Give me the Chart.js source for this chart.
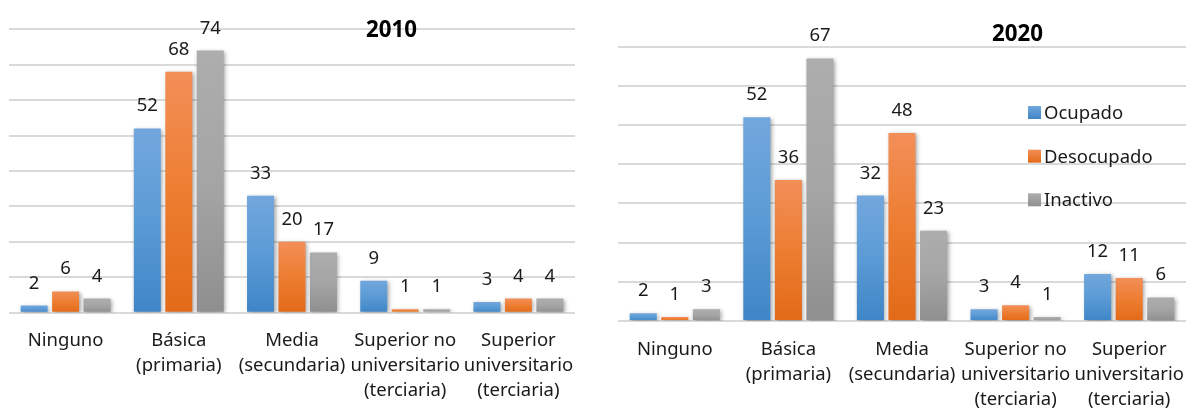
<!DOCTYPE html>
<html><head><meta charset="utf-8">
<script src="https://cdn.jsdelivr.net/npm/chart.js@4"></script>
<style>
html,body{margin:0;padding:0;background:#fff;overflow:hidden}
#wrap{position:relative;width:1186px;height:410px}
#c1{position:absolute;left:0;top:0}
#c2{position:absolute;left:596px;top:0}
</style></head>
<body><div id="wrap"><canvas id="c1" width="590" height="410"></canvas><canvas id="c2" width="590" height="410"></canvas></div>
<script>
// ---- data ----
const categories = [
  ['Ninguno'],
  ['Básica', '(primaria)'],
  ['Media', '(secundaria)'],
  ['Superior no', 'universitario', '(terciaria)'],
  ['Superior', 'universitario', '(terciaria)']
];
const seriesNames = ['Ocupado', 'Desocupado', 'Inactivo'];
const ocupado2010 = [2, 52, 33, 9, 3];
const desocupado2010 = [6, 68, 20, 1, 4];
const inactivo2010 = [4, 74, 17, 1, 4];
const ocupado2020 = [2, 52, 32, 3, 12];
const desocupado2020 = [1, 36, 48, 4, 11];
const inactivo2020 = [3, 67, 23, 1, 6];
const title2010 = '2010';
const title2020 = '2020';
const yMax2010 = 80;
const yMax2020 = 70;
const yStep = 10;

// ---- styles ----
const FONT = 'Noto Sans';
const TEXT = '#1a1a1a';
const COLORS = [
  { top: '#72a7dd', bottom: '#3f85c7', solid: '#5b9bd5' },
  { top: '#f28f58', bottom: '#e26a18', solid: '#ed7d31' },
  { top: '#adadad', bottom: '#8f8f8f', solid: '#a5a5a5' }
];
Chart.defaults.font.family = FONT;
Chart.defaults.font.size = 18.5;
Chart.defaults.color = TEXT;

function gradFor(idx) {
  return function (c) {
    const col = COLORS[idx];
    const chart = c.chart;
    const y = chart.scales && chart.scales.y;
    if (!y || c.type !== 'data' || !chart.chartArea) return col.solid;
    const v = c.raw;
    const p0 = y.getPixelForValue(0), p1 = y.getPixelForValue(v);
    if (!isFinite(p0) || !isFinite(p1) || Math.abs(p0 - p1) < 0.5) return col.bottom;
    const g = chart.ctx.createLinearGradient(0, p1, 0, p0);
    g.addColorStop(0, col.top);
    g.addColorStop(0.5, col.solid);
    g.addColorStop(1, col.bottom);
    return g;
  };
}

const decorPlugin = {
  id: 'decor',
  beforeDatasetsDraw(chart) {
    const ctx = chart.ctx;
    ctx.save();
    ctx.shadowColor = 'rgba(0,0,0,0.35)';
    ctx.shadowBlur = 4;
    ctx.shadowOffsetX = 1.5;
    ctx.shadowOffsetY = 1.5;
  },
  afterDatasetsDraw(chart) {
    const ctx = chart.ctx;
    ctx.restore();
    const o = chart.options.plugins.decor;
    ctx.save();
    ctx.font = `18.5px "${FONT}"`;
    ctx.fillStyle = TEXT;
    ctx.textAlign = 'center';
    ctx.textBaseline = 'alphabetic';
    chart.data.datasets.forEach((ds, di) => {
      chart.getDatasetMeta(di).data.forEach((bar, i) => {
        ctx.fillText(String(ds.data[i]), bar.x, bar.y - 17);
      });
    });
    // title
    ctx.font = `bold 22.3px "${FONT}"`;
    ctx.fillStyle = '#000';
    ctx.fillText(o.title, o.titleX, o.titleY);
    // legend
    if (o.legend) {
      ctx.textAlign = 'left';
      ctx.font = `18.5px "${FONT}"`;
      chart.data.datasets.forEach((ds, di) => {
        const yb = o.legend.y[di];
        const col = COLORS[di];
        const g = ctx.createLinearGradient(0, yb - 13, 0, yb);
        g.addColorStop(0, col.top); g.addColorStop(1, col.bottom);
        ctx.fillStyle = g;
        ctx.fillRect(o.legend.x, yb - 13, 13, 13);
        ctx.fillStyle = TEXT;
        ctx.fillText(ds.label, o.legend.x + 16, yb);
      });
    }
    ctx.restore();
  }
};

function makeChart(id, values, yMax, padding, xHeight, decor) {
  return new Chart(document.getElementById(id), {
    type: 'bar',
    data: {
      labels: categories,
      datasets: values.map((d, i) => ({
        label: seriesNames[i],
        data: d,
        backgroundColor: gradFor(i),
        borderWidth: 0,
        barPercentage: 0.857,
        categoryPercentage: 0.834
      }))
    },
    options: {
      responsive: false,
      animation: false,
      devicePixelRatio: 1,
      layout: { padding },
      plugins: {
        legend: { display: false },
        tooltip: { enabled: false },
        title: { display: false },
        decor
      },
      scales: {
        x: {
          grid: { display: false, drawTicks: false },
          border: { display: false },
          ticks: { padding: 16, maxRotation: 0, autoSkip: false, font: { size: 18.5, lineHeight: 1.35 }, color: TEXT },
          afterFit(s) { s.height = xHeight; s.paddingLeft = 0; s.paddingRight = 0; }
        },
        y: {
          min: 0, max: yMax,
          grid: { color: '#d9d9d9', lineWidth: 2, drawTicks: false },
          border: { display: false },
          ticks: { display: false, stepSize: yStep },
          afterFit(s) { s.width = 0; s.paddingTop = 0; s.paddingBottom = 0; }
        }
      }
    },
    plugins: [decorPlugin]
  });
}

makeChart('c1', [ocupado2010, desocupado2010, inactivo2010], yMax2010,
  { left: 9, right: 15, top: 29.3, bottom: 0 }, 97.3,
  { title: title2010, titleX: 391.5, titleY: 37.3 });

makeChart('c2', [ocupado2020, desocupado2020, inactivo2020], yMax2020,
  { left: 22, right: 0, top: 46.7, bottom: 0 }, 89,
  { title: title2020, titleX: 421.5, titleY: 40.7, legend: { x: 432, y: [119, 162.7, 206.3] } });
</script>
</body></html>
